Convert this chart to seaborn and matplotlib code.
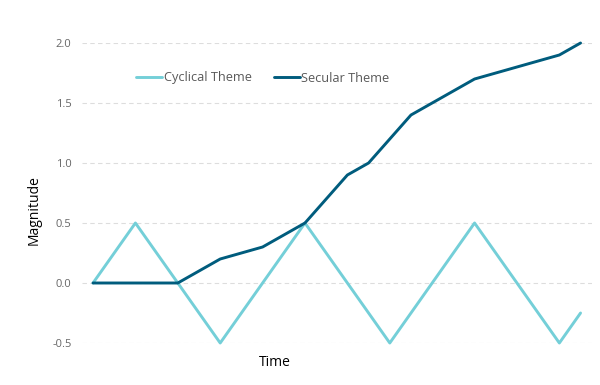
import pandas as pd
import seaborn as sns
import matplotlib.pyplot as plt

# data
cyc_x = [0, 1, 2, 3, 4, 5, 6, 7, 8, 9, 10, 11, 11.5]
cyc_y = [0, 0.5, 0, -0.5, 0, 0.5, 0, -0.5, 0, 0.5, 0, -0.5, -0.25]
sec_x = [0, 1, 2, 3, 4, 5, 6, 6.5, 7.5, 9, 11, 11.5]
sec_y = [0, 0, 0, 0.2, 0.3, 0.5, 0.9, 1.0, 1.4, 1.7, 1.9, 2.0]
y_ticks = [-0.5, 0.0, 0.5, 1.0, 1.5, 2.0]

df = pd.concat([
    pd.DataFrame({'Time': cyc_x, 'Magnitude': cyc_y, 'Theme': 'Cyclical Theme'}),
    pd.DataFrame({'Time': sec_x, 'Magnitude': sec_y, 'Theme': 'Secular Theme'}),
])

sns.set_style('white')
plt.rcParams['font.family'] = ['Open Sans', 'DejaVu Sans']

fig = plt.figure(figsize=(6, 3.85), dpi=100)
ax = fig.add_axes([82 / 600, 1 - 343 / 385, 510 / 600, 300 / 385])

palette = {'Cyclical Theme': '#74CFD8', 'Secular Theme': '#005C7D'}
sns.lineplot(data=df, x='Time', y='Magnitude', hue='Theme', palette=palette,
             linewidth=2.1, sort=False, estimator=None, ax=ax, clip_on=False)

ax.set_xlim(-0.26, 11.77)
ax.set_ylim(-0.5, 2.0)
ax.set_yticks(y_ticks)
ax.set_yticklabels([f'{v:.1f}' for v in y_ticks])
ax.set_xticks([])
ax.tick_params(axis='y', length=0, pad=7.5, labelsize=8, labelcolor='#666666')
ax.yaxis.grid(True, linestyle=(0, (4, 3)), color='#dddddd', linewidth=0.8)
ax.set_axisbelow(True)
for s in ax.spines.values():
    s.set_visible(False)

ax.set_xlabel('Time', fontsize=10, color='black')
ax.xaxis.set_label_coords(0.378, -0.04)
ax.set_ylabel('Magnitude', fontsize=10, color='black')
ax.yaxis.set_label_coords(-0.08, 0.443)

leg = ax.legend(loc='center left', bbox_to_anchor=((136 - 82) / 510 - 0.022, (343 - 78) / 300),
                ncol=2, frameon=False, fontsize=9.2, handlelength=2.0, handletextpad=0.15,
                columnspacing=1.75, labelcolor='#595959')

fig.savefig('out.png', dpi=100)
